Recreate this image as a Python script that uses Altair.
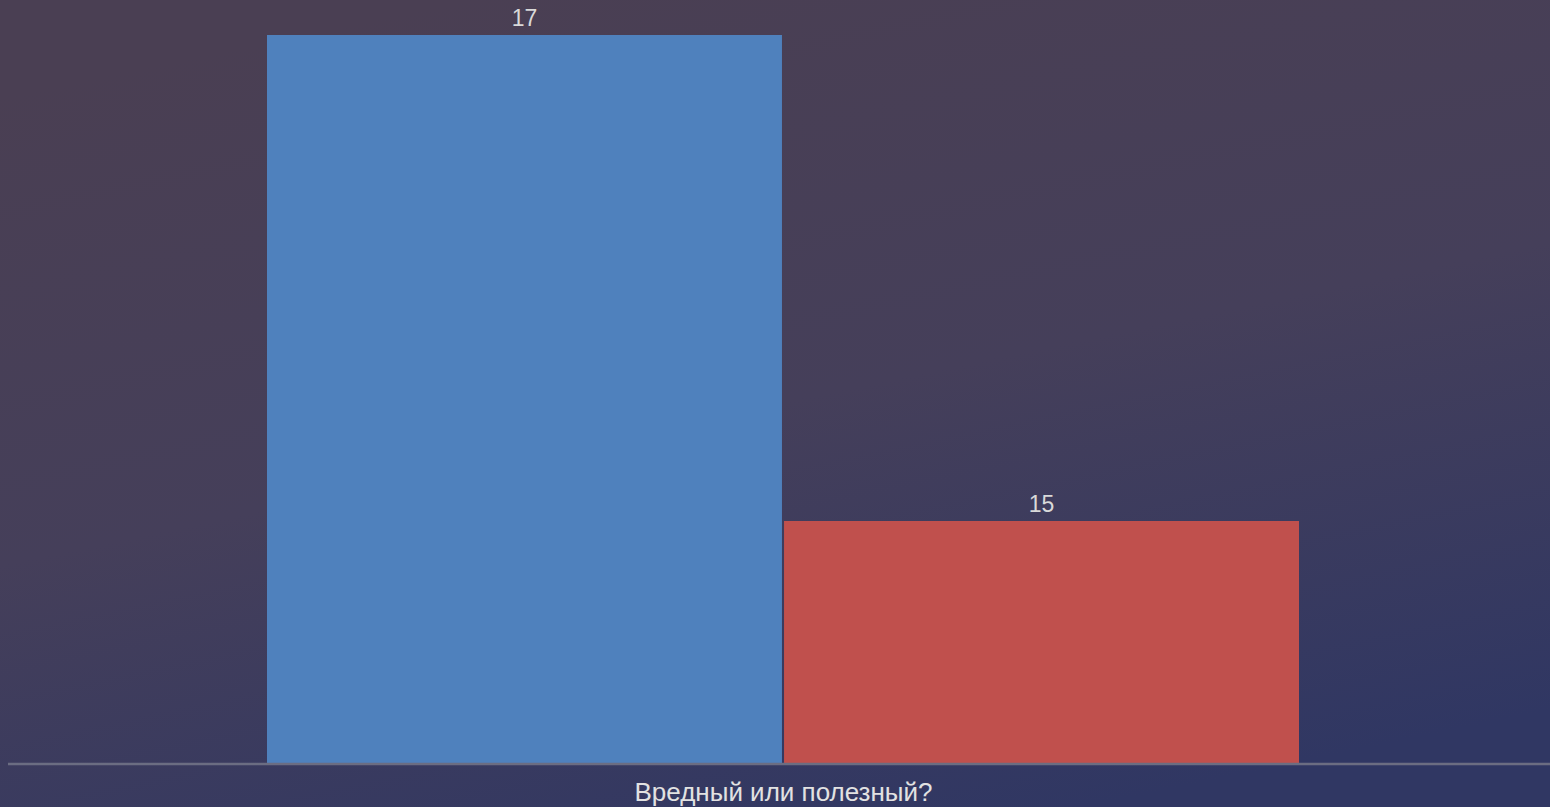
import altair as alt
import pandas as pd

categories = ["Вредный", "Полезный"]
values = [17, 15]
colors = ["#4f81bd", "#c0504d"]
axis_title = "Вредный или полезный?"

df = pd.DataFrame({"cat": categories, "val": values})

W = 1542
H = 729

bg = alt.Chart(pd.DataFrame({"a": [0]})).mark_rect(
    clip=False,
    fill=alt.Gradient(
        gradient="linear",
        stops=[
            alt.GradientStop(color="#4a3f53", offset=0),
            alt.GradientStop(color="#453f5a", offset=0.5),
            alt.GradientStop(color="#303763", offset=1),
        ],
        x1=0.3, x2=0.7, y1=0, y2=1,
    ),
).encode(
    x=alt.value(-8), x2=alt.value(W), y=alt.value(-35), y2=alt.value(H + 43)
)

xenc = alt.X(
    "cat:N",
    sort=categories,
    scale=alt.Scale(range=[259, 1291], paddingInner=0.004, paddingOuter=0),
    axis=alt.Axis(
        title=axis_title,
        labels=False,
        ticks=False,
        domain=False,
        zindex=1,
        titleColor="#e2e2e2",
        titleFont="Liberation Sans",
        titleFontSize=26,
        titleFontWeight="normal",
        titlePadding=15,
    ),
)
yenc = alt.Y("val:Q", scale=alt.Scale(domain=[14, 17], zero=False, nice=False), axis=None)

bars = alt.Chart(df).mark_bar(clip=True).encode(
    x=xenc,
    y=yenc,
    y2=alt.datum(14),
    color=alt.Color("cat:N", sort=categories, scale=alt.Scale(domain=categories, range=colors), legend=None),
)

baseline = alt.Chart(pd.DataFrame({"a": [0]})).mark_rule(
    color="#6b6d82", strokeWidth=2.5
).encode(x=alt.value(0), x2=alt.value(W), y=alt.value(H))

labels = alt.Chart(df).mark_text(
    dy=-16, color="#d9d9d9", font="Liberation Sans", fontSize=23, clip=False
).encode(x=xenc, y=yenc, text="val:Q")

chart = alt.layer(bg, bars, baseline, labels).properties(
    width=W,
    height=H,
    padding={"left": 8, "top": 35, "right": 0, "bottom": 43},
    autosize=alt.AutoSizeParams(type="none"),
    background="#333866",
).configure_view(stroke=None)

chart.save("out.html", embed_options={"renderer": "svg", "actions": False})
